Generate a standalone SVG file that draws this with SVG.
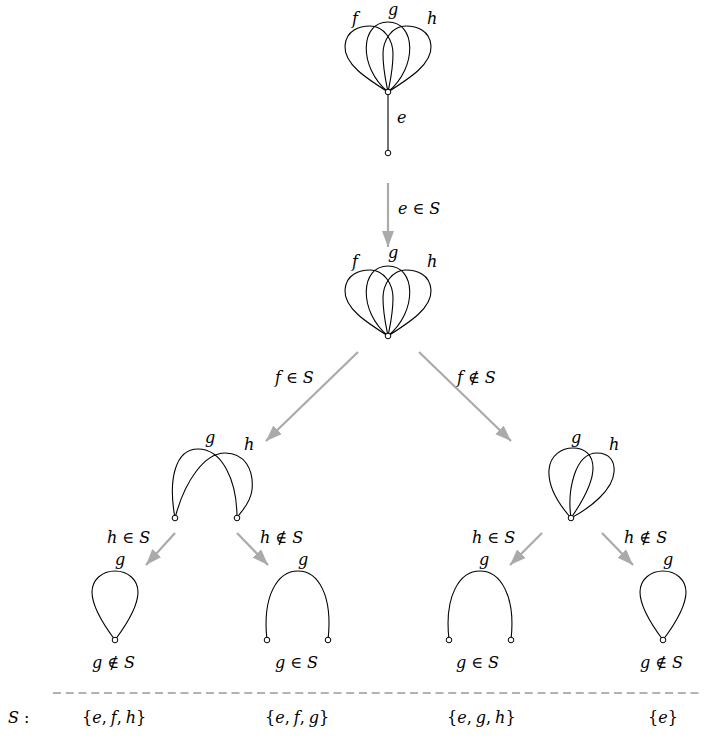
<svg xmlns="http://www.w3.org/2000/svg" xmlns:xlink="http://www.w3.org/1999/xlink" width="707" height="740" viewBox="0 0 707 740">
<style>
.e{fill:none;stroke:#000;stroke-width:1.1}
.v{fill:#fff;stroke:#000;stroke-width:1}
.a{stroke:#aaaaaa;stroke-width:2.2;fill:none}
text{font-family:'DejaVu Serif',serif;font-size:16px;fill:#000}
.i{font-style:italic}
</style>
<defs>
<marker id="ah" markerUnits="userSpaceOnUse" markerWidth="18" markerHeight="14" refX="16" refY="6" orient="auto">
<path d="M0,0 L16,6 L0,12 Z" fill="#aaaaaa"/>
</marker>
<path id="lf" class="e" d="M0,0 C -22,-14 -44,-28 -43,-46 C -42,-62 -28,-66 -18,-66 C -4,-66 5,-52 5,-38 C 5,-22 2,-10 0,0"/>
<path id="lg" class="e" d="M0,0 C -30,-25 -28,-70 0,-70 C 28,-70 30,-25 0,0"/>
<path id="lh" class="e" d="M0,0 C 22,-14 44,-28 43,-46 C 42,-62 28,-66 18,-66 C 4,-66 -5,-52 -5,-38 C -5,-22 -2,-10 0,0"/>
<path id="tear" class="e" d="M0,0 C -15,-20 -23,-35 -23,-48 C -23,-60 -13,-69 0,-69 C 13,-69 23,-60 23,-48 C 23,-35 15,-20 0,0"/>
</defs>

<g id="n1">
<use xlink:href="#lf" x="388" y="92"/>
<use xlink:href="#lg" x="388" y="92"/>
<use xlink:href="#lh" x="388" y="92"/>
<line class="e" x1="388" y1="92" x2="388" y2="153"/>
<circle class="v" cx="388" cy="92" r="2.8"/>
<circle class="v" cx="388" cy="153" r="2.8"/>
<text class="i" x="352" y="24">f</text>
<text class="i" x="388" y="15">g</text>
<text class="i" x="427" y="24">h</text>
<text class="i" x="397" y="123">e</text>
</g>

<g id="n2">
<use xlink:href="#lf" x="388" y="336"/>
<use xlink:href="#lg" x="388" y="336"/>
<use xlink:href="#lh" x="388" y="336"/>
<circle class="v" cx="388" cy="336" r="2.8"/>
<text class="i" x="352" y="267">f</text>
<text class="i" x="388" y="258">g</text>
<text class="i" x="427" y="267">h</text>
</g>

<g id="n3">
<path class="e" d="M175,518 C 168,480 175,449 198,449 C 222,449 237,480 237,518"/>
<path class="e" d="M175,518 C 185,480 205,453 225,453 C 245,453 254,470 252,490 C 250,505 240,512 237,518"/>
<circle class="v" cx="175" cy="518" r="2.8"/>
<circle class="v" cx="237" cy="518" r="2.8"/>
<text class="i" x="205" y="443">g</text>
<text class="i" x="244" y="450">h</text>
</g>

<g id="n4">
<path class="e" d="M571,518 C 555,500 548,485 549,470 C 550,455 562,448 573,448 C 585,448 593,455 593,468 C 593,485 580,505 571,518"/>
<path class="e" d="M571,518 C 567,490 575,453 597,453 C 610,453 615,462 614,472 C 613,490 590,508 571,518"/>
<circle class="v" cx="571" cy="518" r="2.8"/>
<text class="i" x="571" y="443">g</text>
<text class="i" x="609" y="450">h</text>
</g>

<g id="n5">
<use xlink:href="#tear" x="115" y="640"/>
<circle class="v" cx="115" cy="640" r="2.8"/>
<text class="i" x="115" y="565">g</text>
<text x="92" y="668"><tspan class="i">g</tspan><tspan dx="5">∉</tspan><tspan class="i" dx="5">S</tspan></text>
</g>

<g id="n6">
<path class="e" d="M267,640 C 262,595 278,571 298,571 C 318,571 333,595 328,640"/>
<circle class="v" cx="267" cy="640" r="2.8"/>
<circle class="v" cx="328" cy="640" r="2.8"/>
<text class="i" x="298" y="565">g</text>
<text x="275" y="668"><tspan class="i">g</tspan><tspan dx="5">∈</tspan><tspan class="i" dx="5">S</tspan></text>
</g>

<g id="n7">
<path class="e" d="M449,640 C 444,595 460,571 480,571 C 500,571 516,595 511,640"/>
<circle class="v" cx="449" cy="640" r="2.8"/>
<circle class="v" cx="511" cy="640" r="2.8"/>
<text class="i" x="479" y="565">g</text>
<text x="456" y="668"><tspan class="i">g</tspan><tspan dx="5">∈</tspan><tspan class="i" dx="5">S</tspan></text>
</g>

<g id="n8">
<use xlink:href="#tear" x="663" y="640"/>
<circle class="v" cx="663" cy="640" r="2.8"/>
<text class="i" x="663" y="565">g</text>
<text x="640" y="668"><tspan class="i">g</tspan><tspan dx="5">∉</tspan><tspan class="i" dx="5">S</tspan></text>
</g>

<g id="connectors">
<line class="a" x1="388" y1="183" x2="388" y2="247" marker-end="url(#ah)"/>
<line class="a" x1="358" y1="352" x2="266" y2="441" marker-end="url(#ah)"/>
<line class="a" x1="419" y1="352" x2="511" y2="441" marker-end="url(#ah)"/>
<line class="a" x1="175" y1="533" x2="146" y2="565" marker-end="url(#ah)"/>
<line class="a" x1="237" y1="533" x2="268" y2="565" marker-end="url(#ah)"/>
<line class="a" x1="542" y1="533" x2="510" y2="565" marker-end="url(#ah)"/>
<line class="a" x1="602" y1="533" x2="633" y2="565" marker-end="url(#ah)"/>
<text x="398" y="214"><tspan class="i">e</tspan><tspan dx="5">∈</tspan><tspan class="i" dx="5">S</tspan></text>
<text x="275" y="383"><tspan class="i">f</tspan><tspan dx="5">∈</tspan><tspan class="i" dx="5">S</tspan></text>
<text x="457" y="383"><tspan class="i">f</tspan><tspan dx="5">∉</tspan><tspan class="i" dx="5">S</tspan></text>
<text x="107" y="543"><tspan class="i">h</tspan><tspan dx="5">∈</tspan><tspan class="i" dx="5">S</tspan></text>
<text x="260" y="543"><tspan class="i">h</tspan><tspan dx="5">∉</tspan><tspan class="i" dx="5">S</tspan></text>
<text x="472" y="543"><tspan class="i">h</tspan><tspan dx="5">∈</tspan><tspan class="i" dx="5">S</tspan></text>
<text x="624" y="543"><tspan class="i">h</tspan><tspan dx="5">∉</tspan><tspan class="i" dx="5">S</tspan></text>
</g>

<g id="summary">
<line x1="53" y1="693" x2="700" y2="693" stroke="#666" stroke-width="1" stroke-dasharray="8 4.75"/>
<text x="8" y="723"><tspan class="i">S</tspan><tspan dx="5">:</tspan></text>
<text x="82" y="723">{<tspan class="i">e</tspan>,<tspan class="i" dx="4">f</tspan>,<tspan class="i" dx="4">h</tspan>}</text>
<text x="265" y="723">{<tspan class="i">e</tspan>,<tspan class="i" dx="4">f</tspan>,<tspan class="i" dx="4">g</tspan>}</text>
<text x="447" y="723">{<tspan class="i">e</tspan>,<tspan class="i" dx="4">g</tspan>,<tspan class="i" dx="4">h</tspan>}</text>
<text x="648" y="723">{<tspan class="i">e</tspan>}</text>
</g>
</svg>
